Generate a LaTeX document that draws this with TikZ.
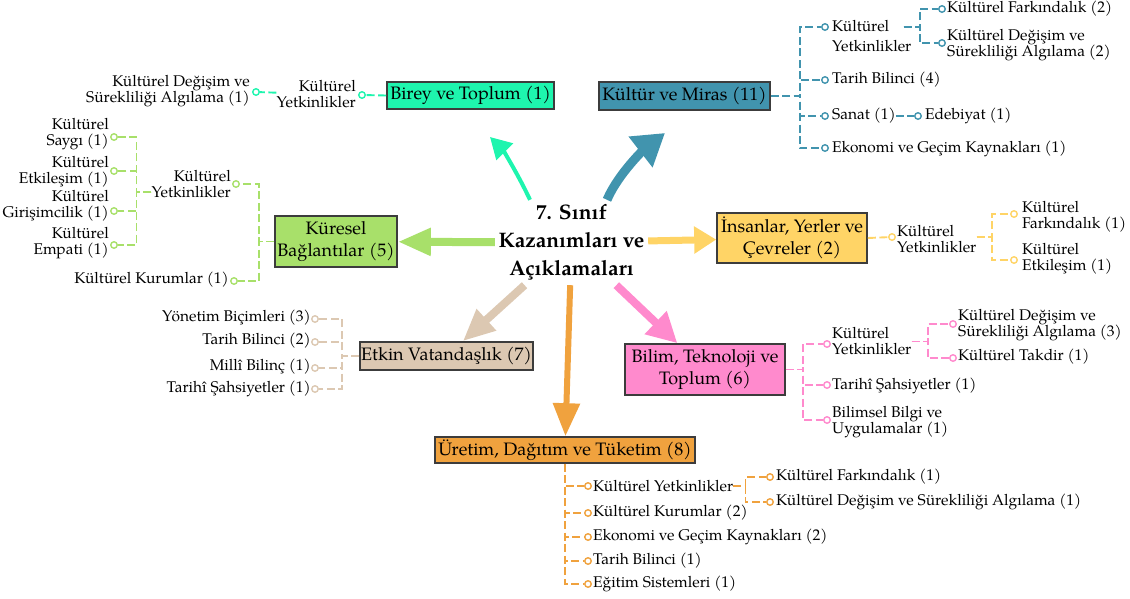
\documentclass[tikz,border=0pt]{standalone}
\usepackage{fontspec}
\setmainfont{TeX Gyre Pagella}
\usetikzlibrary{arrows.meta}
\definecolor{cBirey}{HTML}{1EF5AE}
\definecolor{cKultur}{HTML}{4194AE}
\definecolor{cKuresel}{HTML}{A8E06A}
\definecolor{cInsan}{HTML}{FFD466}
\definecolor{cEtkin}{HTML}{DCC8B2}
\definecolor{cBilim}{HTML}{FF8ACD}
\definecolor{cUretim}{HTML}{F0A23E}
\definecolor{bord}{HTML}{3C3C3C}
\begin{document}
\begin{tikzpicture}[x=1pt,y=-1pt,
 box/.style={draw=bord, line width=1.6pt, fill=#1, inner sep=0pt, align=center, font=\fontsize{18}{22.5}\selectfont},
 leaf/.style={inner sep=0pt, font=\fontsize{15.5}{16}\selectfont},
 lleaf/.style={leaf, align=left, anchor=west},
 rleaf/.style={leaf, align=right, anchor=east},
 dot/.style={circle, draw=#1, fill=white, line width=1.4pt, inner sep=0pt, minimum size=6.5pt},
 conn/.style={draw=#1, line width=1.9pt, dash pattern=on 8pt off 3.5pt},
 bigarr/.style args={#1/#2/#3/#4}{draw=#1, line width=#2, -{Triangle[length=#3, width=#4]}, fill=#1}
]
\useasboundingbox (0,0) rectangle (1130,598);

% ---------- title ----------
\node[inner sep=0pt, minimum width=153pt, minimum height=85pt, align=center,
      font=\fontsize{21}{28}\selectfont\bfseries] (title) at (571.5,242.5)
      {7. Sınıf\\Kazanımları ve\\Açıklamaları};

% ---------- main boxes ----------
\node[box=cBirey, minimum width=167pt, minimum height=27pt] (birey) at (470.5,95.5) {Birey ve Toplum (1)};
\node[box=cKultur, minimum width=171pt, minimum height=28pt] (kultur) at (684.5,96) {Kültür ve Miras (11)};
\node[box=cKuresel, minimum width=122pt, minimum height=51pt] (kuresel) at (336,241.5) {Küresel\\Bağlantılar (5)};
\node[box=cInsan, minimum width=150pt, minimum height=50pt] (insan) at (792,238) {İnsanlar, Yerler ve\\Çevreler (2)};
\node[box=cEtkin, minimum width=173pt, minimum height=28pt] (etkin) at (446.5,356) {Etkin Vatandaşlık (7)};
\node[box=cBilim, minimum width=160pt, minimum height=51pt] (bilim) at (705,369.5) {Bilim, Teknoloji ve\\Toplum (6)};
\node[box=cUretim, minimum width=260pt, minimum height=26pt] (uretim) at (565,450) {Üretim, Dağıtım ve Tüketim (8)};

% ---------- big arrows ----------
\coordinate (tipB) at (490,137);
\coordinate (tipK) at (665,133);
\draw[bigarr=cBirey/4pt/21pt/23pt] ([xshift=-41.5pt]title.north) .. controls (517,172) and (502,149) .. (tipB);
\draw[bigarr=cKultur/9pt/31pt/37pt] ([xshift=35.5pt]title.north) .. controls (619,172) and (647,147) .. (tipK);
\draw[bigarr=cKuresel/8pt/33pt/26pt] (title) -- (kuresel);
\draw[bigarr=cInsan/7pt/22pt/26pt] (title) -- (insan);
\draw[bigarr=cEtkin/8pt/32pt/27pt] (title) -- (etkin);
\draw[bigarr=cBilim/8pt/30pt/30pt] (title) -- (bilim);
\draw[bigarr=cUretim/6pt/33pt/26pt] (title) -- (uretim);

% ---------- Birey ve Toplum ----------
\node[dot=cBirey] (cB1) at (362,95) {};
\node[rleaf] (tB1) at (356,94) {Kültürel\\Yetkinlikler};
\node[dot=cBirey] (cB2) at (256,92) {};
\node[rleaf] (tB2) at (250,91) {Kültürel Değişim ve\\Sürekliliği Algılama (1)};
\draw[conn=cBirey] (birey.west) -- (cB1);
\draw[conn=cBirey] (tB1) -- (cB2);

% ---------- Küresel Bağlantılar ----------
\node[dot=cKuresel] (cK1) at (236,184) {};
\node[rleaf] (tK1) at (231,184) {Kültürel\\Yetkinlikler};
\node[dot=cKuresel] (cK2) at (234,281) {};
\node[rleaf] (tK2) at (229,280) {Kültürel Kurumlar (1)};
\draw[conn=cKuresel] (kuresel.west) -- ++(-15,0) |- (cK1);
\draw[conn=cKuresel] (kuresel.west) -- ++(-15,0) |- (cK2);
\node[dot=cKuresel] (cK3) at (114,137) {};
\node[dot=cKuresel] (cK4) at (114,171) {};
\node[dot=cKuresel] (cK5) at (114,211) {};
\node[dot=cKuresel] (cK6) at (114,245) {};
\node[rleaf] (tK3) at (109,134) {Kültürel\\Saygı (1)};
\node[rleaf] (tK4) at (109,171.5) {Kültürel\\Etkileşim (1)};
\node[rleaf] (tK5) at (109,206) {Kültürel\\Girişimcilik (1)};
\node[rleaf] (tK6) at (109,243) {Kültürel\\Empati (1)};
\draw[conn=cKuresel] ([yshift=-8pt]tK1.west) -- ++(-15,0) |- (cK3);
\draw[conn=cKuresel] ([yshift=-8pt]tK1.west) -- ++(-15,0) |- (cK4);
\draw[conn=cKuresel] ([yshift=-8pt]tK1.west) -- ++(-15,0) |- (cK5);
\draw[conn=cKuresel] ([yshift=-8pt]tK1.west) -- ++(-15,0) |- (cK6);

% ---------- Kültür ve Miras ----------
\node[dot=cKultur] (cM1) at (825,27) {};
\node[dot=cKultur] (cM2) at (825,80) {};
\node[dot=cKultur] (cM3) at (825,116) {};
\node[dot=cKultur] (cM4) at (825,148) {};
\node[lleaf] (tM1) at (832,36) {Kültürel\\[4pt]Yetkinlikler};
\node[lleaf] (tM2) at (832,80) {Tarih Bilinci (4)};
\node[lleaf] (tM3) at (832,116) {Sanat (1)};
\node[lleaf] (tM4) at (832,149) {Ekonomi ve Geçim Kaynakları (1)};
\draw[conn=cKultur] (kultur.east) -- ++(29,0) |- (cM1);
\draw[conn=cKultur] (kultur.east) -- ++(29,0) |- (cM2);
\draw[conn=cKultur] (kultur.east) -- ++(29,0) |- (cM3);
\draw[conn=cKultur] (kultur.east) -- ++(29,0) |- (cM4);
\node[dot=cKultur] (cM5) at (918,116) {};
\node[lleaf] (tM5) at (925,116) {Edebiyat (1)};
\draw[conn=cKultur] (tM3) -- (cM5);
\node[dot=cKultur] (cM6) at (942,9) {};
\node[dot=cKultur] (cM7) at (942,43) {};
\node[lleaf] (tM6) at (947,9) {Kültürel Farkındalık (2)};
\node[lleaf] (tM7) at (947,45.5) {Kültürel Değişim ve\\Sürekliliği Algılama (2)};
\draw[conn=cKultur] ([xshift=-8pt]tM1.east |- cM1) -- ++(16,0) |- (cM6);
\draw[conn=cKultur] ([xshift=-8pt]tM1.east |- cM1) -- ++(16,0) |- (cM7);

% ---------- İnsanlar, Yerler ve Çevreler ----------
\node[dot=cInsan] (cI1) at (892,237) {};
\node[lleaf] (tI1) at (897,239.5) {Kültürel\\Yetkinlikler};
\draw[conn=cInsan] (insan.east) -- (cI1);
\node[dot=cInsan] (cI2) at (1014,214) {};
\node[dot=cInsan] (cI3) at (1014,260) {};
\node[lleaf] (tI2) at (1022,216.5) {Kültürel\\Farkındalık (1)};
\node[lleaf] (tI3) at (1022,259) {Kültürel\\Etkileşim (1)};
\draw[conn=cInsan] (tI1.east |- cI1) -- ++(15,0) |- (cI2);
\draw[conn=cInsan] (tI1.east |- cI1) -- ++(15,0) |- (cI3);

% ---------- Bilim, Teknoloji ve Toplum ----------
\node[dot=cBilim] (cP1) at (827,344) {};
\node[dot=cBilim] (cP2) at (827,385) {};
\node[dot=cBilim] (cP3) at (827,420) {};
\node[lleaf] (tP1) at (832,341.5) {Kültürel\\Yetkinlikler};
\node[lleaf] (tP2) at (832,386) {Tarihî Şahsiyetler (1)};
\node[lleaf] (tP3) at (832,422) {Bilimsel Bilgi ve\\Uygulamalar (1)};
\draw[conn=cBilim] (bilim.east) -- ++(17,0) |- (cP1);
\draw[conn=cBilim] (bilim.east) -- ++(17,0) |- (cP2);
\draw[conn=cBilim] (bilim.east) -- ++(17,0) |- (cP3);
\node[dot=cBilim] (cP4) at (953,324) {};
\node[dot=cBilim] (cP5) at (953,358) {};
\node[lleaf] (tP4) at (958,325) {Kültürel Değişim ve\\Sürekliliği Algılama (3)};
\node[lleaf] (tP5) at (958,357) {Kültürel Takdir (1)};
\draw[conn=cBilim] (tP1.east) -- ++(16,0) |- (cP4);
\draw[conn=cBilim] (tP1.east) -- ++(16,0) |- (cP5);

% ---------- Etkin Vatandaşlık ----------
\node[dot=cEtkin] (cE1) at (315,319) {};
\node[dot=cEtkin] (cE2) at (315,342) {};
\node[dot=cEtkin] (cE3) at (315,368) {};
\node[dot=cEtkin] (cE4) at (315,389) {};
\node[rleaf] (tE1) at (311,318) {Yönetim Biçimleri (3)};
\node[rleaf] (tE2) at (311,341) {Tarih Bilinci (2)};
\node[rleaf] (tE3) at (311,367) {Millî Bilinç (1)};
\node[rleaf] (tE4) at (311,389) {Tarihî Şahsiyetler (1)};
\draw[conn=cEtkin] (etkin.west) -- ++(-17,0) |- (cE1);
\draw[conn=cEtkin] (etkin.west) -- ++(-17,0) |- (cE2);
\draw[conn=cEtkin] (etkin.west) -- ++(-17,0) |- (cE3);
\draw[conn=cEtkin] (etkin.west) -- ++(-17,0) |- (cE4);

% ---------- Üretim, Dağıtım ve Tüketim ----------
\node[dot=cUretim] (cU1) at (588,486) {};
\node[dot=cUretim] (cU2) at (588,513) {};
\node[dot=cUretim] (cU3) at (588,537) {};
\node[dot=cUretim] (cU4) at (588,561) {};
\node[dot=cUretim] (cU5) at (588,584) {};
\node[lleaf] (tU1) at (593,486) {Kültürel Yetkinlikler};
\node[lleaf] (tU2) at (593,513) {Kültürel Kurumlar (2)};
\node[lleaf] (tU3) at (593,537) {Ekonomi ve Geçim Kaynakları (2)};
\node[lleaf] (tU4) at (593,561) {Tarih Bilinci (1)};
\node[lleaf] (tU5) at (593,584) {Eğitim Sistemleri (1)};
\draw[conn=cUretim] (uretim.south) |- (cU1);
\draw[conn=cUretim] (uretim.south) |- (cU2);
\draw[conn=cUretim] (uretim.south) |- (cU3);
\draw[conn=cUretim] (uretim.south) |- (cU4);
\draw[conn=cUretim] (uretim.south) |- (cU5);
\node[dot=cUretim] (cU6) at (770,477) {};
\node[dot=cUretim] (cU7) at (770,502) {};
\node[lleaf] (tU6) at (776,477) {Kültürel Farkındalık (1)};
\node[lleaf] (tU7) at (776,502) {Kültürel Değişim ve Sürekliliği Algılama (1)};
\draw[conn=cUretim] (tU1.east) -- ++(12,0) |- (cU6);
\draw[conn=cUretim] (tU1.east) -- ++(12,0) |- (cU7);
\end{tikzpicture}
\end{document}
